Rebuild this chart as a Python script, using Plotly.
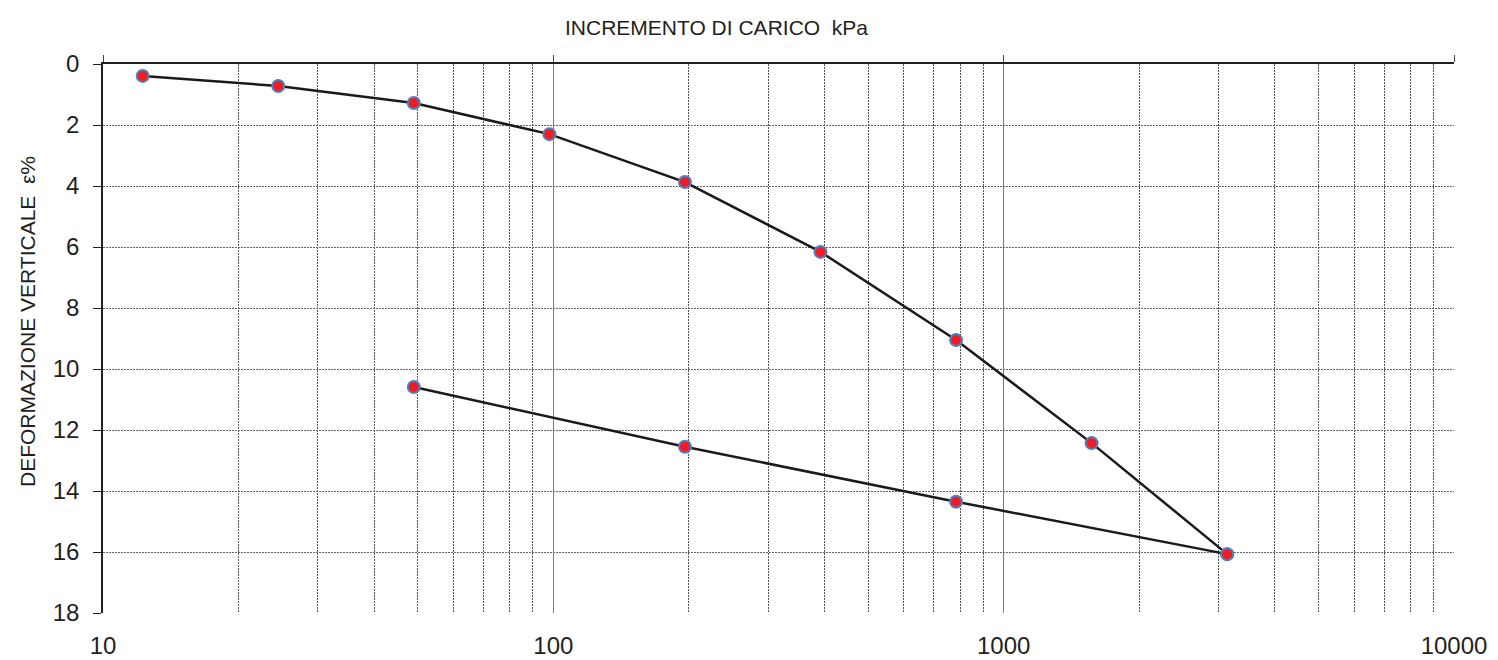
import plotly.graph_objects as go

# Data (kPa, vertical strain %)
loading_kpa = [12.25, 24.5, 49, 98, 196, 392, 784, 1568, 3136]
loading_eps = [0.39, 0.72, 1.28, 2.30, 3.87, 6.16, 9.05, 12.43, 16.07]
unloading_kpa = [3136, 784, 196, 49]
unloading_eps = [16.07, 14.35, 12.55, 10.59]

major_x = [10, 100, 1000, 10000]
major_x_text = ["10", "100", "1000", "10000"]
minor_x = [m * d for d in (10, 100, 1000) for m in range(2, 10)]
y_ticks = list(range(0, 19, 2))

FONT = "Liberation Sans, Arial, sans-serif"
marker = dict(size=12, color="#ee1c25", line=dict(color="#4f81bd", width=2))
line = dict(color="#1a1a1a", width=2.5)

fig = go.Figure()
fig.add_trace(go.Scatter(x=loading_kpa, y=loading_eps, mode="lines+markers",
                         line=line, marker=marker, showlegend=False))
fig.add_trace(go.Scatter(x=unloading_kpa, y=unloading_eps, mode="lines+markers",
                         line=line, marker=marker, showlegend=False))
# invisible trace on top axis so it is rendered
fig.add_trace(go.Scatter(x=[100], y=[0], xaxis="x2", mode="markers",
                         marker=dict(opacity=0), showlegend=False, hoverinfo="skip"))

# the page body has an 8px default margin, so the figure is sized accordingly
fig.update_layout(
    width=1490, height=652,
    margin=dict(l=95, r=44, t=56, b=47),
    paper_bgcolor="white", plot_bgcolor="white",
    font=dict(family=FONT, color="#231f20"),
    xaxis=dict(
        type="log", range=[1, 4], automargin=False,
        tickmode="array", tickvals=major_x, ticktext=major_x_text,
        tickfont=dict(size=24, color="#231f20"),
        ticklabelstandoff=16,
        showgrid=True, gridcolor="#7a7a7a", gridwidth=1,
        showline=False, ticks="", zeroline=False,
        minor=dict(tickmode="array", tickvals=minor_x, showgrid=True,
                   gridcolor="#555555", gridwidth=1, griddash="2px,1px", ticks=""),
    ),
    xaxis2=dict(
        type="log", range=[1, 4], overlaying="x", side="top", anchor="y",
        automargin=False,
        tickmode="array", tickvals=major_x, showticklabels=False,
        ticks="outside", ticklen=7, tickcolor="#444", tickwidth=1,
        showline=True, linecolor="#231f20", linewidth=1.5, showgrid=False,
    ),
    yaxis=dict(
        range=[18, 0], tickmode="array", tickvals=y_ticks, automargin=False,
        tickfont=dict(size=24, color="#231f20"),
        ticklabelstandoff=9,
        showgrid=True, gridcolor="#666666", gridwidth=1, griddash="2px,1px",
        showline=True, linecolor="#231f20", linewidth=1.5,
        ticks="outside", ticklen=8, tickcolor="#231f20", tickwidth=1,
        zeroline=False,
    ),
    annotations=[
        dict(text="INCREMENTO DI CARICO  kPa", xref="paper", yref="paper",
             x=(716 - 103) / (1454 - 103), y=1 + (64 - 27) / 549,
             xanchor="center", yanchor="middle", showarrow=False,
             font=dict(size=21, color="#231f20", family=FONT)),
        dict(text="DEFORMAZIONE VERTICALE  ε%", xref="paper", yref="paper",
             x=(27 - 103) / (1454 - 103), y=1 - (322 - 64) / 549,
             xanchor="center", yanchor="middle", textangle=-90, showarrow=False,
             font=dict(size=21, color="#231f20", family=FONT)),
    ],
)

fig.write_html("out.html")
